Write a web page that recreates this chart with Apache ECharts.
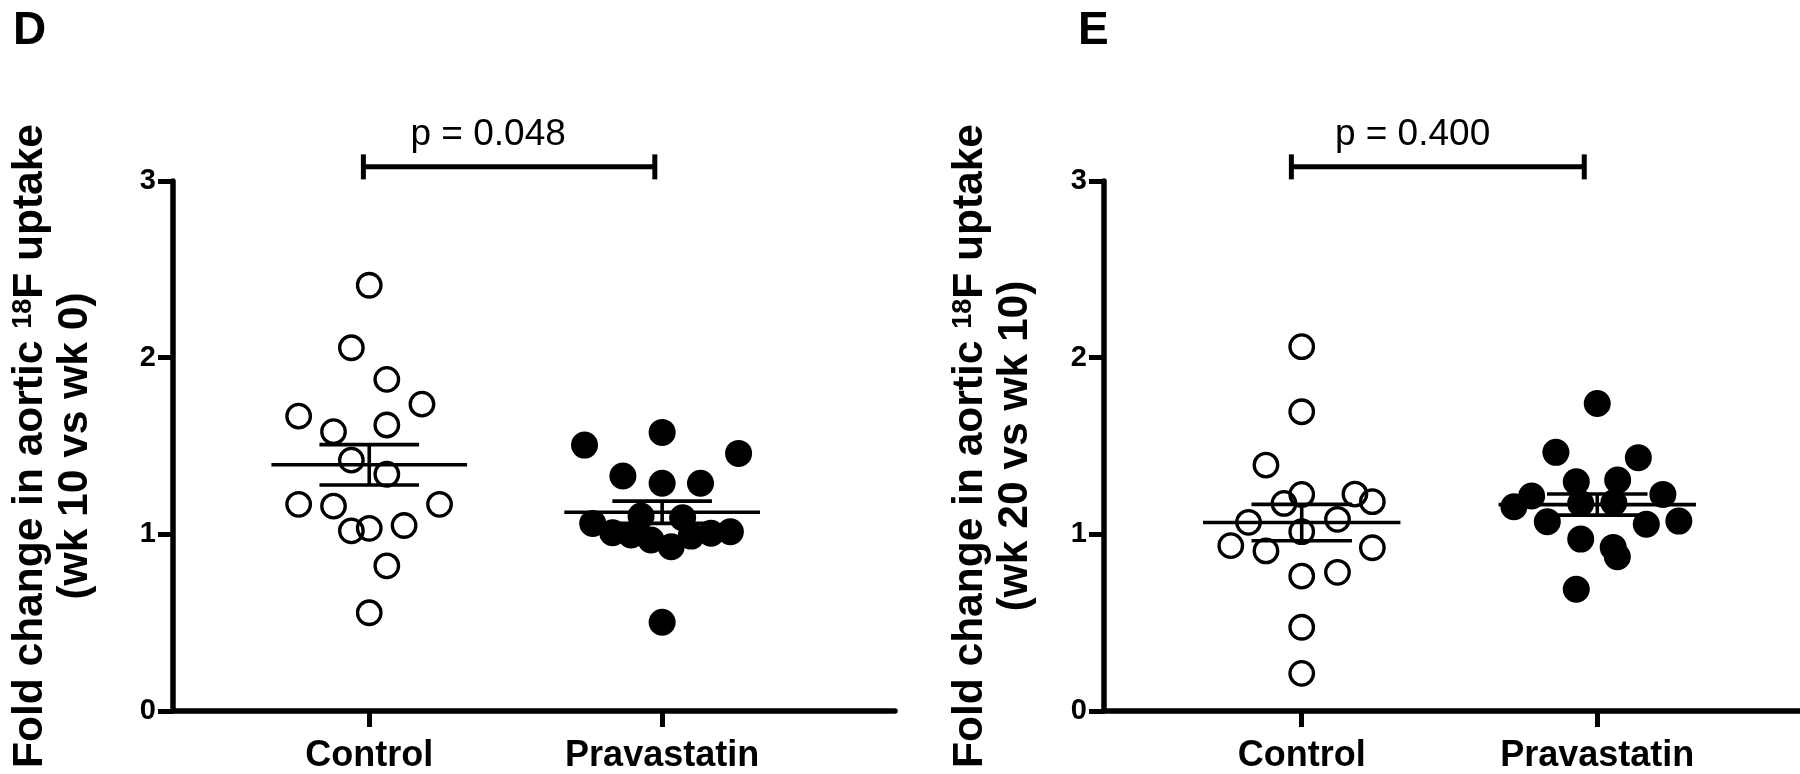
<!DOCTYPE html>
<html>
<head>
<meta charset="utf-8">
<script src="https://cdn.jsdelivr.net/npm/echarts@6/dist/echarts.min.js"></script>
<style>
html,body{margin:0;padding:0;background:#fff;}
#chart{width:1800px;height:774px;}
</style>
</head>
<body>
<div id="chart"></div>
<script>
// ---- data ----
const categories = ['Control', 'Pravastatin'];
const panelLabels = ['D', 'E'];
const pValues = ['p = 0.048', 'p = 0.400'];
const yTitleD = ['Fold change in aortic ', '18', 'F uptake', '(wk 10 vs wk 0)'];
const yTitleE = ['Fold change in aortic ', '18', 'F uptake', '(wk 20 vs wk 10)'];

// Panel D (wk 10 vs wk 0)
const dControlY   = [2.41, 2.056, 1.877, 1.737, 1.669, 1.619, 1.581, 1.42, 1.34, 1.17, 1.16, 1.17, 1.02, 1.034, 1.05, 0.822, 0.556];
const dControlJit = [0, -0.061, 0.06, 0.18, -0.241, 0.06, -0.122, -0.061, 0.06, -0.241, -0.122, 0.24, -0.061, 0, 0.119, 0.06, 0];
const dPravY      = [1.505, 1.577, 1.458, 1.33, 1.289, 1.289, 1.104, 1.094, 1.062, 1.009, 0.996, 0.968, 0.93, 0.99, 1.006, 1.015, 0.502];
const dPravJit    = [-0.265, 0, 0.261, -0.134, 0, 0.131, -0.072, 0.07, -0.237, -0.169, -0.106, -0.038, 0.031, 0.099, 0.167, 0.233, 0];

// Panel E (wk 20 vs wk 10)
const eControlY   = [2.062, 1.694, 1.392, 1.226, 1.228, 1.175, 1.185, 1.068, 1.085, 1.015, 0.936, 0.906, 0.924, 0.764, 0.785, 0.474, 0.213];
const eControlJit = [0, 0, -0.121, 0, 0.18, -0.06, 0.239, -0.18, 0.121, 0, -0.24, -0.121, 0.239, 0, 0.121, 0, 0];
const ePravY      = [1.741, 1.464, 1.434, 1.298, 1.307, 1.217, 1.226, 1.156, 1.175, 1.179, 1.071, 1.057, 1.075, 0.973, 0.926, 0.873, 0.689];
const ePravJit    = [0, -0.14, 0.139, -0.071, 0.069, -0.222, 0.222, -0.282, -0.056, 0.056, -0.169, 0.166, 0.276, -0.056, 0.054, 0.068, -0.071];

// comparison brackets: [left end, right end, text centre] in group units
const dBracket = [0.98, 1.975, 1.406];
const eBracket = [0.965, 1.956, 1.375];

// ---- helpers ----
const FONT = 'Liberation Sans, Arial, sans-serif';
function pts(groupX, jit, ys) { return ys.map((y, i) => [groupX + jit[i], y]); }
function stats(ys) {
  const n = ys.length, m = ys.reduce((a, b) => a + b, 0) / n;
  const sd = Math.sqrt(ys.reduce((a, b) => a + (b - m) * (b - m), 0) / (n - 1));
  return [m, sd / Math.sqrt(n)];
}
const MEAN_HW = 0.334, CAP_HW = 0.17, LW = 3.6;
function meanSemRender(params, api) {
  const x = api.value(0), m = api.value(1), s = api.value(2);
  const a = api.coord([x - MEAN_HW, m]), b = api.coord([x + MEAN_HW, m]);
  const c1 = api.coord([x - CAP_HW, m + s]), c2 = api.coord([x + CAP_HW, m + s]);
  const d1 = api.coord([x - CAP_HW, m - s]), d2 = api.coord([x + CAP_HW, m - s]);
  const st = {stroke: '#000', lineWidth: LW};
  return {type: 'group', children: [
    {type: 'line', shape: {x1: a[0], y1: a[1], x2: b[0], y2: b[1]}, style: st},
    {type: 'line', shape: {x1: c1[0], y1: c1[1], x2: c2[0], y2: c2[1]}, style: st},
    {type: 'line', shape: {x1: d1[0], y1: d1[1], x2: d2[0], y2: d2[1]}, style: st},
    {type: 'line', shape: {x1: (c1[0]+c2[0])/2, y1: c1[1], x2: (d1[0]+d2[0])/2, y2: d1[1]}, style: st}
  ]};
}
const BR_Y = 3.08;
function bracketRender(panel) {
  return function (params, api) {
    const l = api.coord([api.value(0), BR_Y]), r = api.coord([api.value(1), BR_Y]);
    const t = api.coord([api.value(2), BR_Y]);
    const st = {stroke: '#000', lineWidth: 5};
    return {type: 'group', children: [
      {type: 'line', shape: {x1: l[0], y1: l[1], x2: r[0], y2: r[1]}, style: st},
      {type: 'line', shape: {x1: l[0], y1: l[1] - 12.5, x2: l[0], y2: l[1] + 12.5}, style: st},
      {type: 'line', shape: {x1: r[0], y1: r[1] - 12.5, x2: r[0], y2: r[1] + 12.5}, style: st},
      {type: 'text', x: t[0], y: t[1] - 14, style: {text: pValues[panel], fill: '#000',
        font: '37px ' + FONT, align: 'center', verticalAlign: 'bottom'}}
    ]};
  };
}
function yName(parts) {
  return '{t|' + parts[0] + '}{s|' + parts[1] + '}{t|' + parts[2] + '}\n{t|' + parts[3] + '}';
}
const nameRich = {
  t: {fontSize: 42.5, fontWeight: 'bold', fontFamily: FONT, color: '#000', lineHeight: 45},
  s: {fontSize: 27, fontWeight: 'bold', fontFamily: FONT, color: '#000', lineHeight: 45, verticalAlign: 'top', padding: [2, 0, 0, 0]}
};
function xAxisCfg(idx, min, max) {
  return {
    type: 'value', gridIndex: idx, min: min, max: max,
    axisLine: {show: true, lineStyle: {color: '#000', width: 5.5}},
    axisTick: {show: true, customValues: [1, 2], length: 16, lineStyle: {color: '#000', width: 5}},
    axisLabel: {show: true, customValues: [1, 2], margin: 27, formatter: v => categories[Math.round(v) - 1] || '',
      fontSize: 36, fontWeight: 'bold', fontFamily: FONT, color: '#000'},
    splitLine: {show: false}
  };
}
function yAxisCfg(idx, parts, gap) {
  return {
    type: 'value', gridIndex: idx, min: 0, max: 3, interval: 1,
    axisLine: {show: true, lineStyle: {color: '#000', width: 5.5}},
    axisTick: {show: true, length: 15, lineStyle: {color: '#000', width: 5}},
    axisLabel: {margin: 17, fontSize: 29, fontWeight: 'bold', fontFamily: FONT, color: '#000'},
    splitLine: {show: false},
    name: yName(parts), nameLocation: 'middle', nameRotate: 90, nameGap: gap,
    nameTextStyle: {rich: nameRich, align: 'center'}
  };
}
function groupSeries(ax, ctrl, prav) {
  const hollow = {
    type: 'scatter', xAxisIndex: ax, yAxisIndex: ax, data: ctrl, symbol: 'circle', symbolSize: 23.5,
    itemStyle: {color: 'rgba(0,0,0,0)', borderColor: '#000', borderWidth: 3.3, opacity: 1}, z: 3, silent: true
  };
  const filled = {
    type: 'scatter', xAxisIndex: ax, yAxisIndex: ax, data: prav, symbol: 'circle', symbolSize: 27,
    itemStyle: {color: '#000', opacity: 1}, z: 3, silent: true
  };
  return [hollow, filled];
}

const chart = echarts.init(document.getElementById('chart'), null, {renderer: 'canvas'});
const sDC = stats(dControlY), sDP = stats(dPravY), sEC = stats(eControlY), sEP = stats(ePravY);

chart.setOption({
  animation: false,
  backgroundColor: '#fff',
  grid: [
    {left: 173, top: 181, width: 722, height: 530},
    {left: 1104, top: 181, width: 696, height: 530}
  ],
  xAxis: [xAxisCfg(0, 0.33, 2.795), xAxisCfg(1, 0.331, 2.686)],
  yAxis: [yAxisCfg(0, yTitleD, 75), yAxisCfg(1, yTitleE, 66)],
  graphic: [
    {type: 'text', left: 13, top: 8, style: {text: panelLabels[0], font: 'bold 46px ' + FONT, fill: '#000'}},
    {type: 'text', left: 1078, top: 8, style: {text: panelLabels[1], font: 'bold 46px ' + FONT, fill: '#000'}}
  ],
  series: [
    ...groupSeries(0, pts(1, dControlJit, dControlY), pts(2, dPravJit, dPravY)),
    ...groupSeries(1, pts(1, eControlJit, eControlY), pts(2, ePravJit, ePravY)),
    {type: 'custom', xAxisIndex: 0, yAxisIndex: 0, renderItem: meanSemRender, z: 5, silent: true,
      data: [[1, sDC[0], sDC[1]], [2, sDP[0], sDP[1]]]},
    {type: 'custom', xAxisIndex: 1, yAxisIndex: 1, renderItem: meanSemRender, z: 5, silent: true,
      data: [[1, sEC[0], sEC[1]], [2, sEP[0], sEP[1]]]},
    {type: 'custom', xAxisIndex: 0, yAxisIndex: 0, renderItem: bracketRender(0), clip: false, z: 5, silent: true,
      data: [dBracket]},
    {type: 'custom', xAxisIndex: 1, yAxisIndex: 1, renderItem: bracketRender(1), clip: false, z: 5, silent: true,
      data: [eBracket]}
  ]
});
</script>
</body>
</html>
